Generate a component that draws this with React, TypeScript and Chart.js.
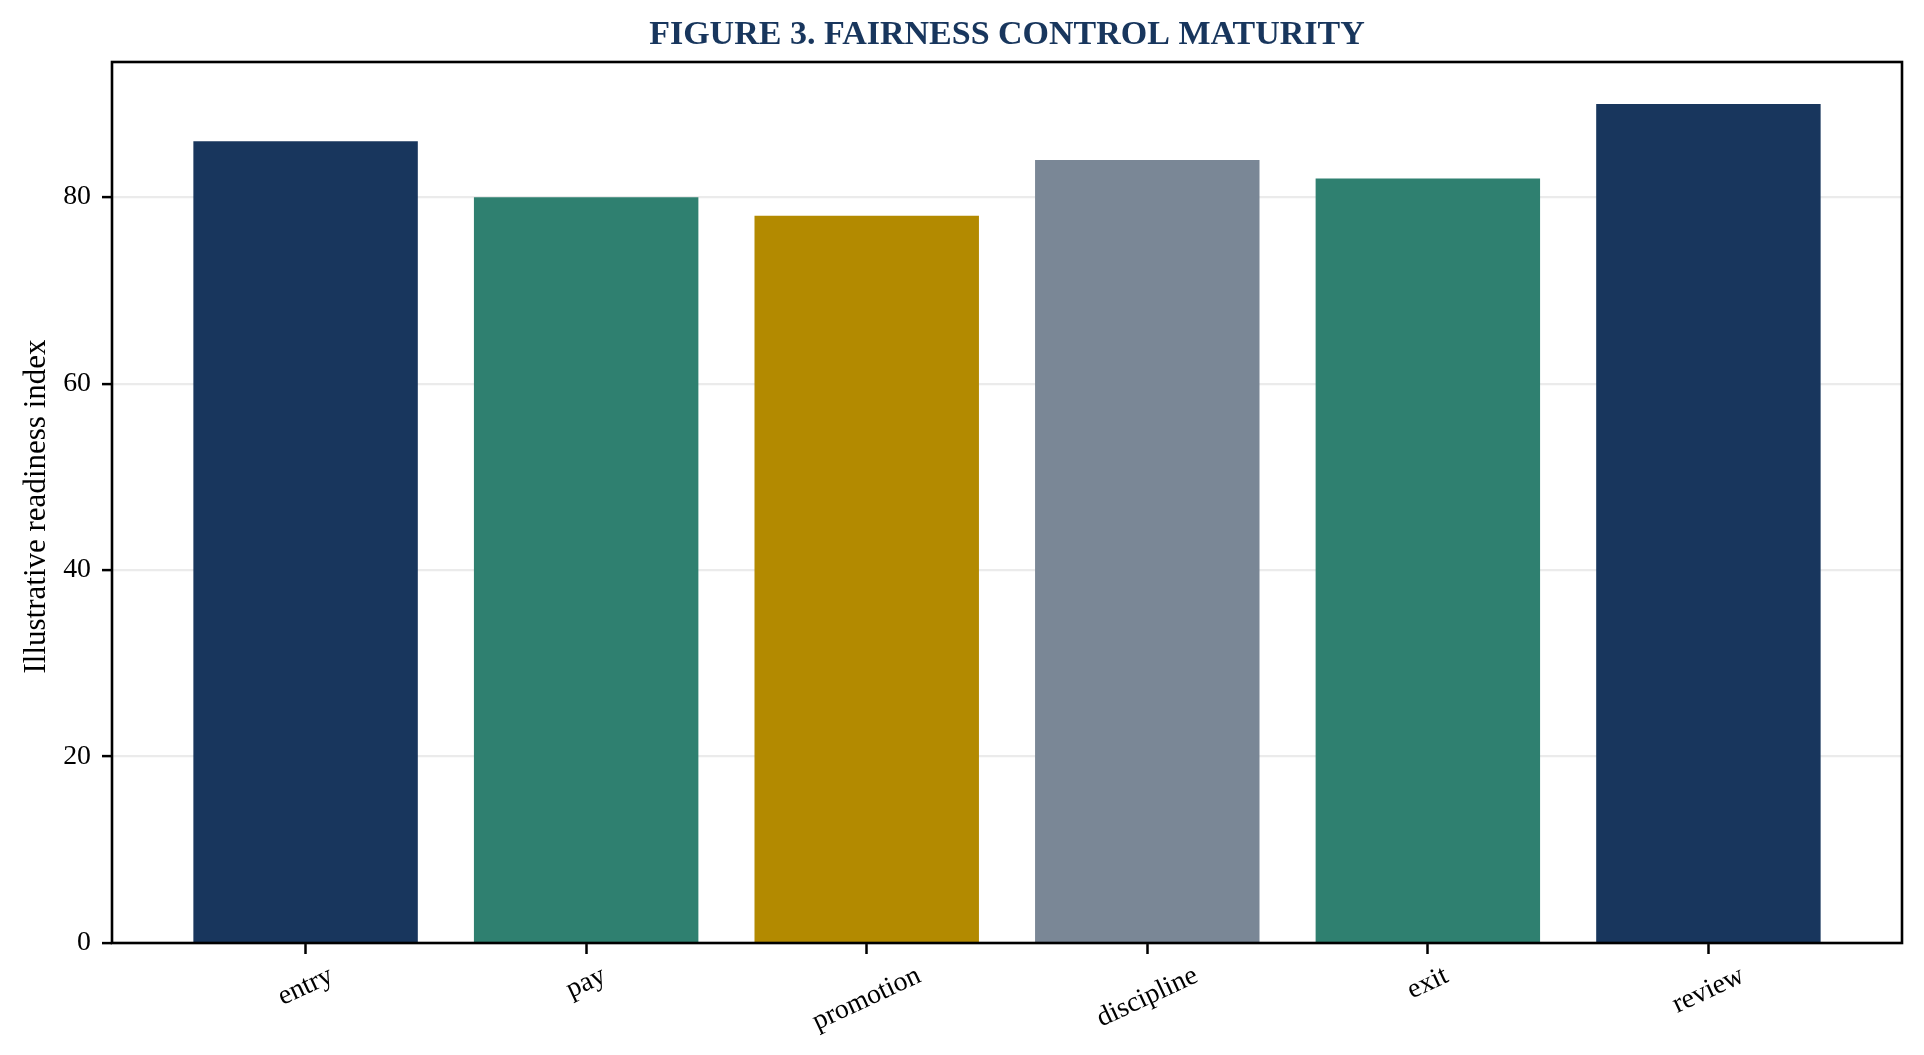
import React, { useEffect, useRef } from "react";
import { Chart, registerables } from "chart.js";

Chart.register(...registerables);

const categories = ["entry", "pay", "promotion", "discipline", "exit", "review"];
const readiness = [86, 80, 78, 84, 82, 90];
const barColors = ["#18365d", "#2f8070", "#b38a00", "#7a8796", "#2f8070", "#18365d"];
const yTicks = [0, 20, 40, 60, 80];
const titleText = "FIGURE 3. FAIRNESS CONTROL MATURITY";
const yAxisLabel = "Illustrative readiness index";

const FONT = '"Liberation Serif", "Times New Roman", serif';
const TICK_SIZE = 27.8;
const ROT = (25 * Math.PI) / 180;

const decorPlugin = {
  id: "decor",
  afterDraw(chart: any) {
    const { ctx, chartArea: a, scales } = chart;
    ctx.save();
    // frame
    ctx.strokeStyle = "#000";
    ctx.lineWidth = 2.6;
    ctx.strokeRect(a.left, a.top, a.right - a.left, a.bottom - a.top);

    // title
    ctx.fillStyle = "#18365d";
    ctx.font = `bold 34px ${FONT}`;
    ctx.textAlign = "center";
    ctx.textBaseline = "alphabetic";
    ctx.fillText(titleText, (a.left + a.right) / 2, 44);

    // y axis label
    ctx.save();
    ctx.translate(45, (a.top + a.bottom) / 2 + 4);
    ctx.rotate(-Math.PI / 2);
    ctx.fillStyle = "#000";
    ctx.font = `31px ${FONT}`;
    ctx.textAlign = "center";
    ctx.textBaseline = "alphabetic";
    ctx.fillText(yAxisLabel, 0, 0);
    ctx.restore();

    // x tick labels, rotated 25deg, centered on ticks
    const xs = scales.x;
    ctx.font = `${TICK_SIZE}px ${FONT}`;
    ctx.fillStyle = "#000";
    const h = TICK_SIZE * 1.15;
    const y0 = a.bottom + 17;
    categories.forEach((lab, i) => {
      const w = ctx.measureText(lab).width;
      const H = w * Math.sin(ROT) + h * Math.cos(ROT);
      const px = xs.getPixelForValue(i);
      ctx.save();
      ctx.translate(px, y0 + H / 2);
      ctx.rotate(-ROT);
      ctx.textAlign = "center";
      ctx.textBaseline = "middle";
      ctx.fillText(lab, 0, 0);
      ctx.restore();
    });
    ctx.restore();
  },
};

export default function App() {
  const ref = useRef<HTMLCanvasElement | null>(null);

  useEffect(() => {
    document.body.style.margin = "0";
    const canvas = ref.current;
    if (!canvas) return;
    const chart = new Chart(canvas, {
      type: "bar",
      data: {
        datasets: [
          {
            data: categories.map((_, i) => ({ x: i, y: readiness[i] })),
            backgroundColor: barColors,
            borderWidth: 0,
            barPercentage: 0.8,
            categoryPercentage: 1.0,
          },
        ],
      },
      plugins: [decorPlugin],
      options: {
        responsive: false,
        animation: false,
        layout: { padding: { left: 0, top: 62, right: 22, bottom: 0 } },
        plugins: {
          legend: { display: false },
          title: { display: false },
          tooltip: { enabled: false },
        },
        scales: {
          x: {
            type: "linear",
            min: -0.69,
            max: 5.69,
            offset: false,
            afterBuildTicks: (scale: any) => {
              scale.ticks = categories.map((_, i) => ({ value: i }));
            },
            afterFit: (scale: any) => {
              scale.height = 112;
            },
            ticks: { display: false, autoSkip: false },
            border: { display: false },
            grid: {
              display: true,
              offset: false,
              drawOnChartArea: false,
              drawTicks: true,
              tickLength: 11,
              tickColor: "#000",
              tickWidth: 2.5,
            },
          },
          y: {
            type: "linear",
            min: 0,
            max: 94.5,
            z: 1,
            afterBuildTicks: (scale: any) => {
              scale.ticks = yTicks.map((v) => ({ value: v }));
            },
            afterFit: (scale: any) => {
              scale.width = 112;
            },
            ticks: {
              color: "#000",
              font: { family: FONT, size: TICK_SIZE },
              padding: 11,
            },
            border: { display: false },
            grid: {
              color: "rgba(190,190,190,0.3)",
              lineWidth: 2.2,
              drawTicks: true,
              tickLength: 10,
              tickColor: "#000",
              tickWidth: 2.5,
            },
          },
        },
      },
    });
    return () => chart.destroy();
  }, []);

  return <canvas ref={ref} width={1924} height={1055} style={{ display: "block" }} />;
}
